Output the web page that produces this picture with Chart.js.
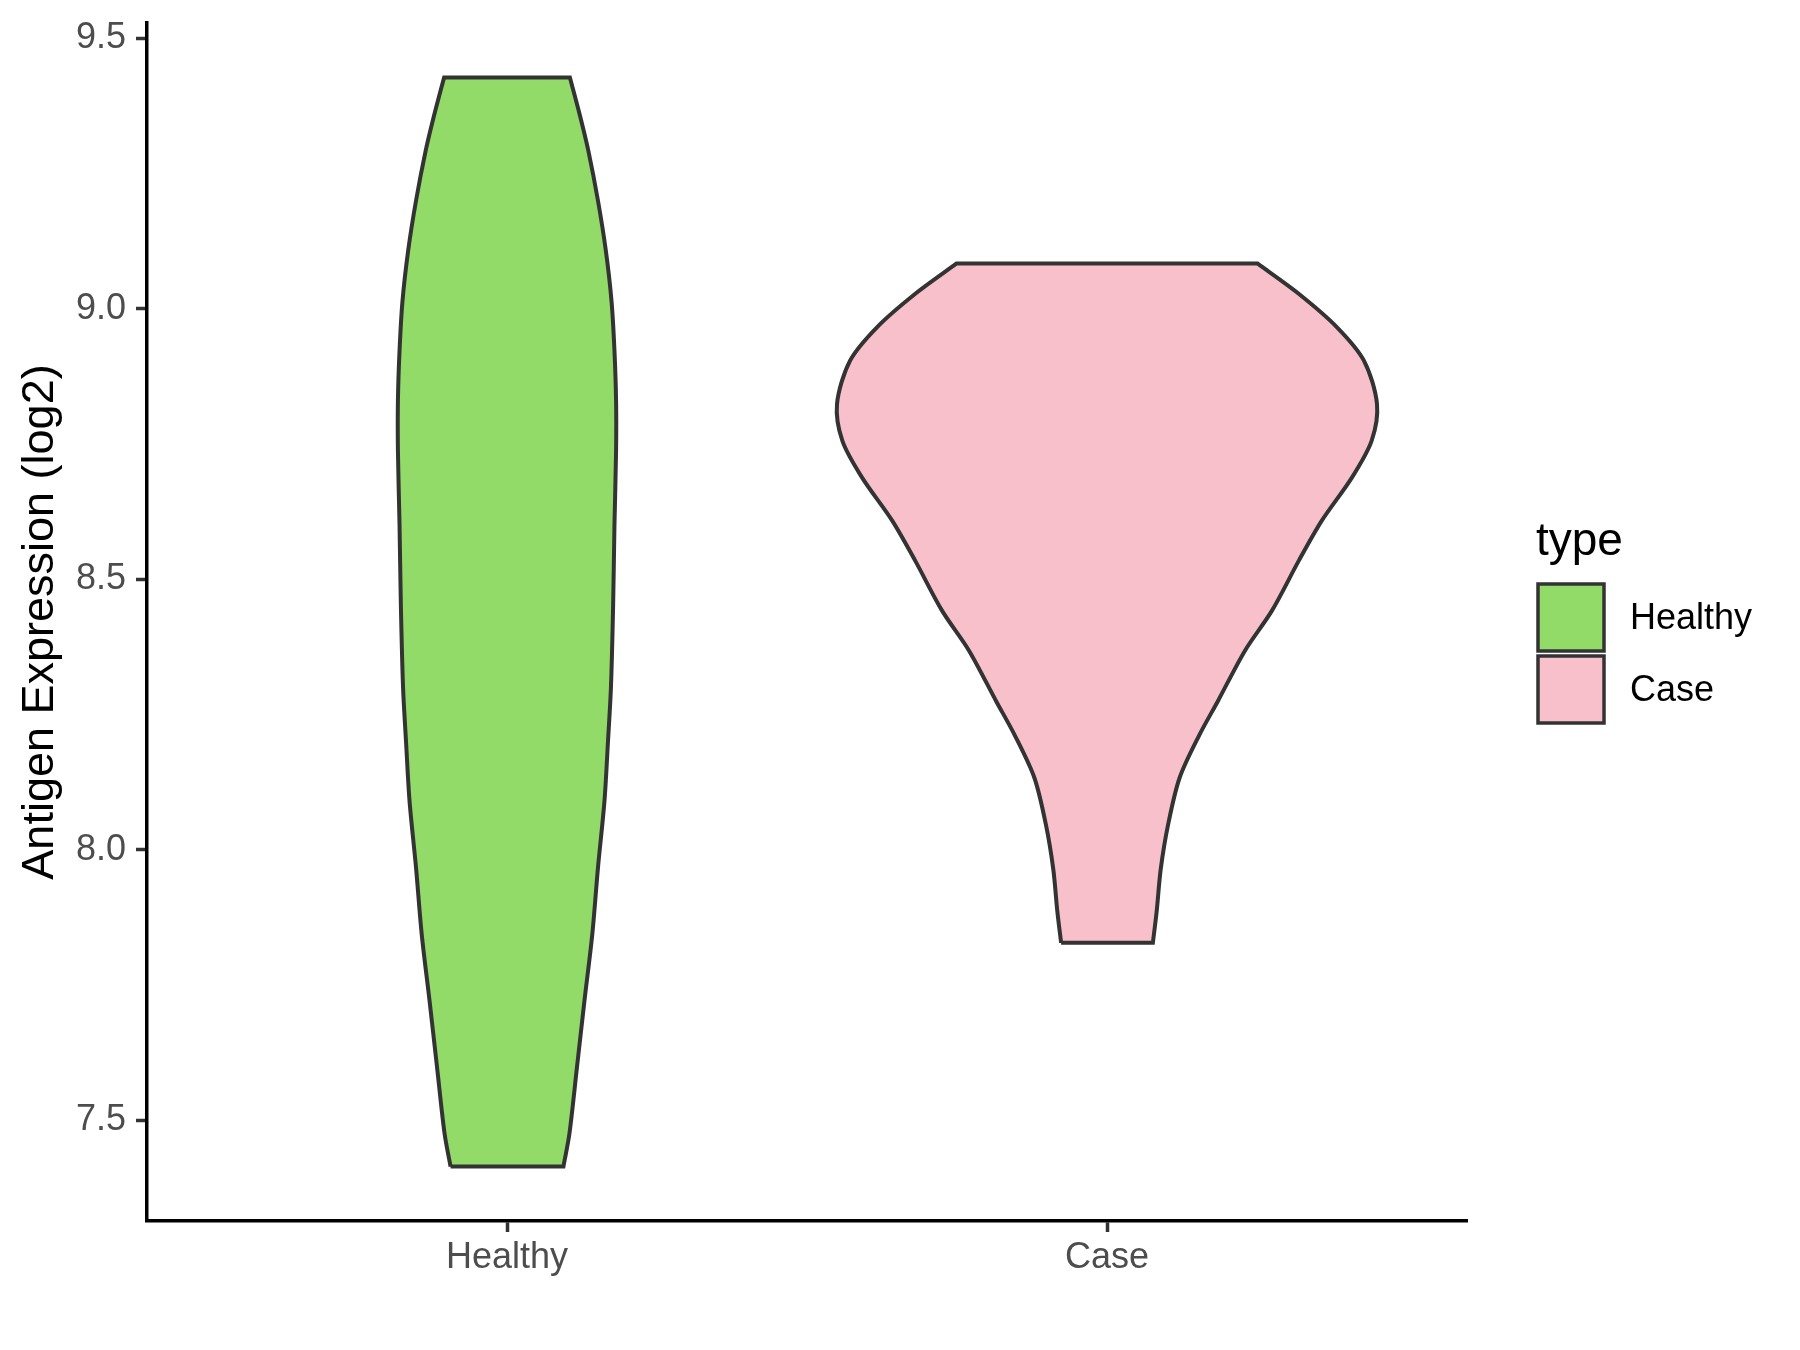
<!DOCTYPE html>
<html>
<head>
<meta charset="utf-8">
<title>Antigen Expression violin</title>
<script src="https://cdn.jsdelivr.net/npm/chart.js"></script>
<style>
  html, body { margin: 0; padding: 0; background: #ffffff; }
  #wrap { width: 1800px; height: 1350px; }
</style>
</head>
<body>
<div id="wrap"><canvas id="violinChart" width="1800" height="1350"></canvas></div>
<script>
// categories and colours
const categories = ['Healthy', 'Case'];
const fillColors = ['#93DB69', '#F7C0CB'];

// y tick labels
const yTicks = [7.5, 8.0, 8.5, 9.0, 9.5];

// violin outlines: expression value -> relative density (Case peak = 1)
const healthyY = [7.414, 7.474, 7.597, 7.721, 7.844, 7.967, 8.090, 8.200, 8.300, 8.450, 8.600, 8.738, 8.830, 8.923, 9.015, 9.108, 9.200, 9.293, 9.354, 9.428];
const healthyDensity = [0.209, 0.231, 0.259, 0.287, 0.316, 0.337, 0.361, 0.374, 0.385, 0.393, 0.398, 0.404, 0.404, 0.398, 0.387, 0.366, 0.337, 0.301, 0.272, 0.233];

const caseY = [7.828, 7.886, 7.964, 8.048, 8.133, 8.211, 8.275, 8.368, 8.442, 8.534, 8.608, 8.688, 8.756, 8.824, 8.904, 8.966, 9.028, 9.084];
const caseDensity = [0.170, 0.184, 0.199, 0.227, 0.269, 0.341, 0.411, 0.511, 0.611, 0.710, 0.795, 0.907, 0.980, 1.000, 0.952, 0.852, 0.710, 0.557];

// ggplot default violin width 0.9 -> half width 0.45 at the widest point
const halfWidth = 0.45;

// closed outline; the end points are repeated so the flat top and bottom stay straight
function violinOutline(center, ys, dens) {
    const n = ys.length;
    const left = ys.map((y, i) => ({ x: center - dens[i] * halfWidth, y: y }));
    const right = ys.map((y, i) => ({ x: center + dens[i] * halfWidth, y: y })).reverse();
    const pts = [];
    left.forEach(p => pts.push(p));
    pts.push(left[n - 1]);
    pts.push(right[0]);
    right.forEach(p => pts.push(p));
    pts.push(right[n - 1]);
    pts.push(left[0]);
    return pts;
}

const allY = healthyY.concat(caseY);
const dataMin = Math.min(...allY);
const dataMax = Math.max(...allY);
const pad = (dataMax - dataMin) * 0.05;

const FONT = '"Liberation Sans", Arial, Helvetica, sans-serif';

// legend drawn like ggplot's guide on the right
const ggLegend = {
    id: 'ggLegend',
    afterDraw(chart) {
        const ctx = chart.ctx;
        ctx.save();
        ctx.fillStyle = '#000000';
        ctx.font = '46px ' + FONT;
        ctx.textBaseline = 'alphabetic';
        ctx.textAlign = 'left';
        ctx.fillText('type', 1536, 555);
        chart.data.datasets.forEach((ds, i) => {
            const top = 584 + i * 72;
            ctx.fillStyle = ds.backgroundColor;
            ctx.fillRect(1538, top, 66, 67);
            ctx.strokeStyle = '#333333';
            ctx.lineWidth = 3.5;
            ctx.strokeRect(1538, top, 66, 67);
            ctx.fillStyle = '#000000';
            ctx.font = '36px ' + FONT;
            ctx.textBaseline = 'middle';
            ctx.fillText(ds.label, 1630, top + 35);
        });
        ctx.restore();
    }
};

document.addEventListener('DOMContentLoaded', () => {
    const ctx = document.getElementById('violinChart').getContext('2d');
    new Chart(ctx, {
        type: 'scatter',
        data: {
            datasets: [
                {
                    label: categories[0],
                    data: violinOutline(1, healthyY, healthyDensity),
                    showLine: true,
                    fill: 'shape',
                    backgroundColor: fillColors[0],
                    borderColor: '#333333',
                    borderWidth: 4,
                    pointRadius: 0,
                    tension: 0.3
                },
                {
                    label: categories[1],
                    data: violinOutline(2, caseY, caseDensity),
                    showLine: true,
                    fill: 'shape',
                    backgroundColor: fillColors[1],
                    borderColor: '#333333',
                    borderWidth: 4,
                    pointRadius: 0,
                    tension: 0.3
                }
            ]
        },
        options: {
            responsive: false,
            animation: false,
            layout: { padding: { left: 0, top: 23, right: 333, bottom: 0 } },
            plugins: {
                legend: { display: false },
                tooltip: { enabled: false }
            },
            scales: {
                x: {
                    type: 'linear',
                    min: 0.4,
                    max: 2.6,
                    afterBuildTicks: (scale) => {
                        scale.ticks = categories.map((c, i) => ({ value: i + 1 }));
                    },
                    afterFit: (scale) => {
                        scale.height = 129;
                        scale.paddingLeft = 0;
                        scale.paddingRight = 0;
                    },
                    ticks: {
                        autoSkip: false,
                        maxRotation: 0,
                        padding: 4,
                        color: '#4D4D4D',
                        font: { family: FONT, size: 36 },
                        callback: (value) => categories[Math.round(value) - 1] || ''
                    },
                    grid: {
                        drawOnChartArea: false,
                        drawTicks: true,
                        tickLength: 11,
                        tickWidth: 3.5,
                        tickColor: '#333333'
                    },
                    border: { display: true, color: '#000000', width: 3.5 }
                },
                y: {
                    type: 'linear',
                    min: dataMin - pad,
                    max: dataMax + pad,
                    afterBuildTicks: (scale) => {
                        scale.ticks = yTicks.map(v => ({ value: v }));
                    },
                    afterFit: (scale) => {
                        scale.width = 147;
                        scale.paddingTop = 0;
                        scale.paddingBottom = 0;
                    },
                    ticks: {
                        padding: 10,
                        color: '#4D4D4D',
                        font: { family: FONT, size: 36 },
                        callback: (value) => value.toFixed(1)
                    },
                    grid: {
                        drawOnChartArea: false,
                        drawTicks: true,
                        tickLength: 11,
                        tickWidth: 3.5,
                        tickColor: '#333333'
                    },
                    border: { display: true, color: '#000000', width: 3.5 },
                    title: {
                        display: true,
                        text: 'Antigen Expression (log2)',
                        color: '#000000',
                        font: { family: FONT, size: 45 },
                        padding: { top: 14, bottom: 0 }
                    }
                }
            }
        },
        plugins: [ggLegend]
    });
});
</script>
</body>
</html>
